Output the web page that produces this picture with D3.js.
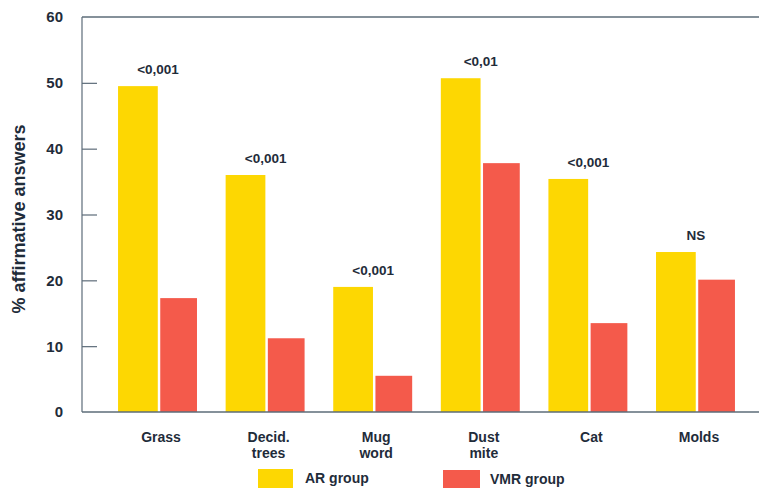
<!DOCTYPE html>
<html>
<head>
<meta charset="utf-8">
<script src="https://cdn.jsdelivr.net/npm/d3@7/dist/d3.min.js"></script>
<style>
  html, body { margin: 0; padding: 0; background: #ffffff; }
  svg { display: block; }
  text { font-family: "Liberation Sans", Arial, Helvetica, sans-serif; font-weight: bold; fill: #1f2c3a; }
</style>
</head>
<body>
<svg id="chart" width="759" height="488"></svg>
<script>
// Allergen categories (a space in the name starts a second label line)
const categories = ["Grass", "Decid. trees", "Mug word", "Dust mite", "Cat", "Molds"];
// % affirmative answers per group
const arValues  = [49.5, 36.0, 19.0, 50.7, 35.4, 24.3];
const vmrValues = [17.3, 11.2, 5.5, 37.8, 13.5, 20.1];
// significance of the AR vs VMR difference
const pLabels = ["<0,001", "<0,001", "<0,001", "<0,01", "<0,001", "NS"];
const yTicks = [0, 10, 20, 30, 40, 50, 60];
const seriesNames = ["AR group", "VMR group"];

const colors = { "AR group": "#fdd702", "VMR group": "#f45a4b" };
const axisColor = "#5d6c79";

const svg = d3.select("#chart");
const W = 759;

const plotLeft = 82, plotTop = 17, plotBottom = 412, plotRightRange = 772;

const y = d3.scaleLinear().domain([0, 60]).range([plotBottom, plotTop]);

const x = d3.scaleBand()
  .domain(categories)
  .range([plotLeft, plotRightRange])
  .paddingInner(0.257)
  .paddingOuter(0.335);

const xs = d3.scaleBand()
  .domain(seriesNames)
  .range([0, x.bandwidth()])
  .paddingInner(0.06);

// y axis with inward ticks
const yAxis = d3.axisRight(y)
  .tickValues(yTicks.filter(t => t > 0 && t < 60))
  .tickSize(15)
  .tickFormat("");
const gy = svg.append("g").attr("transform", `translate(${plotLeft},0)`).call(yAxis);
gy.select(".domain").remove();
gy.selectAll(".tick line").attr("stroke", axisColor).attr("stroke-width", 1.2);

// tick labels
svg.append("g").selectAll("text")
  .data(yTicks)
  .join("text")
  .attr("x", 63)
  .attr("y", d => y(d))
  .attr("dy", "0.36em")
  .attr("text-anchor", "end")
  .attr("font-size", 15)
  .text(d => d);

// axis title
svg.append("text")
  .attr("transform", `translate(25,219) rotate(-90)`)
  .attr("text-anchor", "middle")
  .attr("font-size", 18)
  .text("% affirmative answers");

// bars
const groups = svg.append("g").selectAll("g")
  .data(categories.map((c, i) => ({ c, i })))
  .join("g")
  .attr("transform", d => `translate(${x(d.c)},0)`);

groups.append("rect")
  .attr("x", xs("AR group"))
  .attr("width", xs.bandwidth() + 1)
  .attr("y", d => y(arValues[d.i]))
  .attr("height", d => y(0) - y(arValues[d.i]))
  .attr("fill", colors["AR group"]);

groups.append("rect")
  .attr("x", xs("VMR group") + 1)
  .attr("width", xs.bandwidth() - 2)
  .attr("y", d => y(vmrValues[d.i]))
  .attr("height", d => y(0) - y(vmrValues[d.i]))
  .attr("fill", colors["VMR group"]);

// significance labels above each pair
groups.append("text")
  .attr("x", x.bandwidth() / 2)
  .attr("y", d => y(Math.max(arValues[d.i], vmrValues[d.i])) - 12)
  .attr("text-anchor", "middle")
  .attr("font-size", 13.5)
  .text(d => pLabels[d.i]);

// category labels
groups.append("text")
  .attr("text-anchor", "middle")
  .attr("font-size", 14)
  .attr("y", 442)
  .selectAll("tspan")
  .data(d => d.c.split(" "))
  .join("tspan")
  .attr("x", x.bandwidth() / 2 + 3)
  .attr("dy", (d, i) => i === 0 ? 0 : 16)
  .text(d => d);

// frame lines: left axis, top and baseline
svg.append("line")
  .attr("x1", plotLeft).attr("x2", plotLeft)
  .attr("y1", plotTop).attr("y2", plotBottom)
  .attr("stroke", axisColor).attr("stroke-width", 1.2);
svg.append("line")
  .attr("x1", plotLeft).attr("x2", W)
  .attr("y1", plotTop).attr("y2", plotTop)
  .attr("stroke", axisColor).attr("stroke-width", 1.5);
svg.append("line")
  .attr("x1", plotLeft).attr("x2", W)
  .attr("y1", plotBottom).attr("y2", plotBottom)
  .attr("stroke", axisColor).attr("stroke-width", 1.5);

// legend
const legend = [
  { name: "AR group", sx: 258, sw: 35, sy: 469, ty: 483, tx: 305 },
  { name: "VMR group", sx: 443, sw: 37, sy: 470, ty: 484, tx: 490 }
];
const lg = svg.append("g").selectAll("g").data(legend).join("g");
lg.append("rect")
  .attr("x", d => d.sx).attr("y", d => d.sy)
  .attr("width", d => d.sw).attr("height", 22)
  .attr("fill", d => colors[d.name]);
lg.append("text")
  .attr("x", d => d.tx).attr("y", d => d.ty)
  .attr("font-size", 14)
  .text(d => d.name);
</script>
</body>
</html>
